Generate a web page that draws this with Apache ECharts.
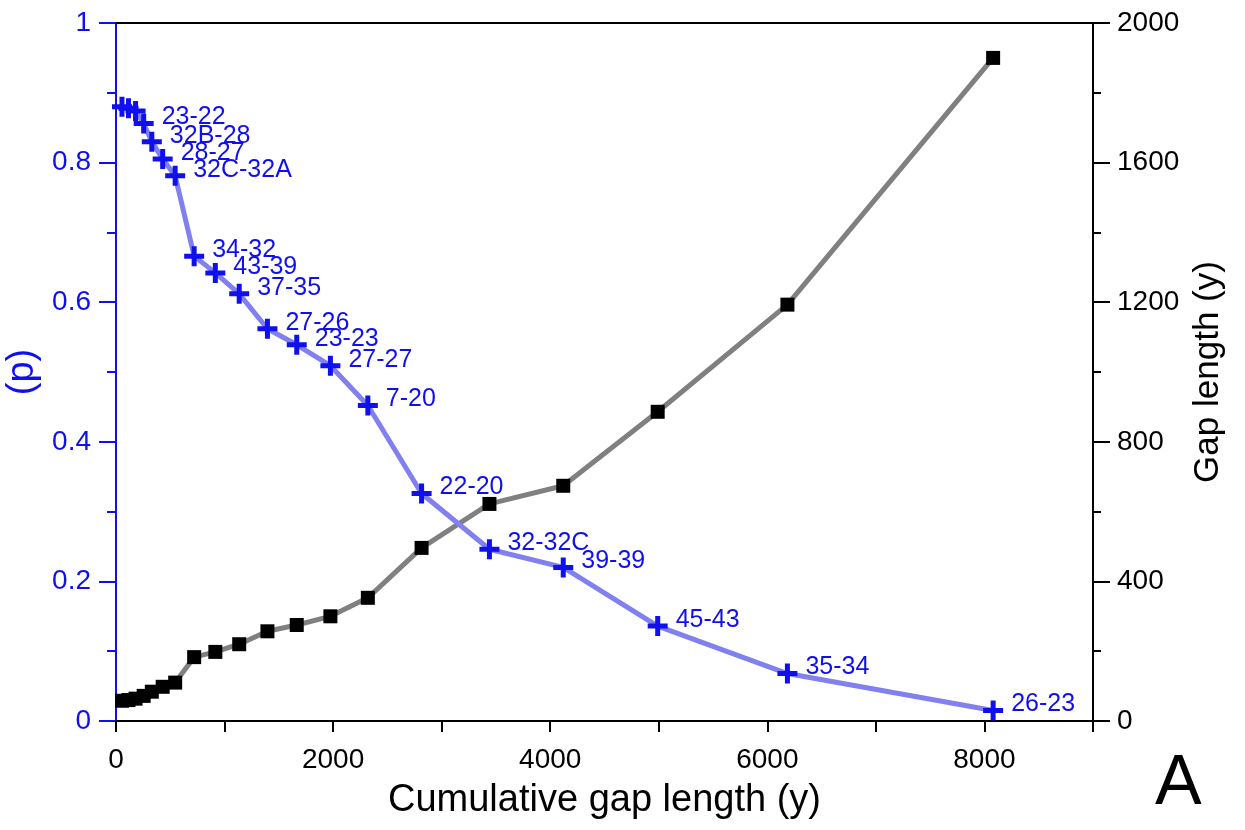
<!DOCTYPE html>
<html><head><meta charset="utf-8">
<script src="https://cdn.jsdelivr.net/npm/echarts@6/dist/echarts.min.js"></script>
<style>html,body{margin:0;padding:0;background:#fff}#c{width:1245px;height:830px}</style>
</head><body><div id="c"></div>
<script>
// Cumulative gap length (x)
const cumGap = [55, 115, 180, 255, 330, 430, 545, 720, 915, 1135, 1395, 1665, 1975, 2320, 2815, 3440, 4120, 4990, 6185, 8080];
// Probability p (left axis)
const pValues = [0.880, 0.878, 0.874, 0.856, 0.830, 0.805, 0.781, 0.666, 0.642, 0.612, 0.562, 0.539, 0.509, 0.452, 0.326, 0.246, 0.220, 0.136, 0.068, 0.015];
// Gap length (right axis)
const gapLen = [58, 60, 64, 72, 84, 98, 110, 183, 198, 220, 257, 275, 300, 353, 496, 622, 674, 886, 1193, 1900];
// Point labels
const pointLabels = ['', '', '', '23-22', '32B-28', '28-27', '32C-32A', '34-32', '43-39', '37-35', '27-26', '23-23', '27-27', '7-20', '22-20', '32-32C', '39-39', '45-43', '35-34', '26-23'];
// Tick labels
const xTickLabels = [0, 2000, 4000, 6000, 8000];

const FONT = '"Liberation Sans", Arial, sans-serif';
const BLUE = '#1010ee';
const plusPath = 'path://M7.5,0h5v7.5h7.5v5h-7.5v7.5h-5v-7.5h-7.5v-5h7.5z';

const chart = echarts.init(document.getElementById('c'));
chart.setOption({
  animation: false,
  grid: {left: 116, right: 152, top: 23, bottom: 109, containLabel: false, outerBoundsMode: 'none'},
  xAxis: [{
    type: 'value', min: 0, max: 9000, interval: 1000,
    name: 'Cumulative gap length (y)', nameLocation: 'middle', nameGap: 61,
    nameTextStyle: {fontFamily: FONT, fontSize: 38, color: '#000'},
    axisLine: {onZero: false, lineStyle: {color: '#000', width: 2}},
    axisTick: {show: true, length: 11, lineStyle: {color: '#000', width: 2}},
    axisLabel: {margin: 25, fontFamily: FONT, fontSize: 28, color: '#000',
      formatter: v => xTickLabels.indexOf(v) >= 0 ? String(v) : ''},
    splitLine: {show: false}
  }, {
    type: 'value', position: 'top', min: 0, max: 9000,
    axisLine: {show: true, onZero: false, lineStyle: {color: '#000', width: 2}},
    axisTick: {show: false}, axisLabel: {show: false}, splitLine: {show: false}
  }],
  yAxis: [{
    type: 'value', min: 0, max: 1, interval: 0.2, position: 'left',
    name: '(p)', nameLocation: 'middle', nameGap: 66,
    nameTextStyle: {fontFamily: FONT, fontSize: 38, color: BLUE},
    axisLine: {show: true, onZero: false, lineStyle: {color: BLUE, width: 2}},
    axisTick: {show: true, length: 17, lineStyle: {color: BLUE, width: 2}},
    minorTick: {show: true, splitNumber: 2, length: 9, lineStyle: {color: BLUE, width: 2}},
    axisLabel: {margin: 25, fontFamily: FONT, fontSize: 28, color: BLUE,
      formatter: v => v === 0 ? '0' : (v === 1 ? '1' : v.toFixed(1))},
    splitLine: {show: false}
  }, {
    type: 'value', min: 0, max: 2000, interval: 400, position: 'right',
    name: 'Gap length (y)', nameLocation: 'middle', nameGap: 98,
    nameTextStyle: {fontFamily: FONT, fontSize: 35, color: '#000'},
    axisLine: {show: true, onZero: false, lineStyle: {color: '#000', width: 2}},
    axisTick: {show: true, length: 17, lineStyle: {color: '#000', width: 2}},
    minorTick: {show: true, splitNumber: 2, length: 8, lineStyle: {color: '#000', width: 2}},
    axisLabel: {margin: 24, fontFamily: FONT, fontSize: 28, color: '#000',
      formatter: v => String(v)},
    splitLine: {show: false}
  }],
  series: [{
    type: 'line', xAxisIndex: 0, yAxisIndex: 1, z: 2,
    data: cumGap.map((x, i) => [x, gapLen[i]]),
    symbol: 'rect', symbolSize: 14,
    itemStyle: {color: '#000'},
    lineStyle: {color: '#808080', width: 5}
  }, {
    type: 'line', xAxisIndex: 0, yAxisIndex: 0, z: 3,
    data: cumGap.map((x, i) => [x, pValues[i]]),
    symbol: plusPath, symbolSize: 20,
    itemStyle: {color: BLUE},
    lineStyle: {color: '#8080f0', width: 5},
    label: {show: true, position: 'right', distance: 8, offset: [0, -6],
      fontFamily: FONT, fontSize: 25, color: BLUE,
      formatter: p => pointLabels[p.dataIndex]}
  }],
  graphic: [{
    type: 'text', left: 1155, top: 750,
    style: {text: 'A', fontFamily: FONT, fontSize: 70, fill: '#000'}
  }]
});
</script></body></html>
